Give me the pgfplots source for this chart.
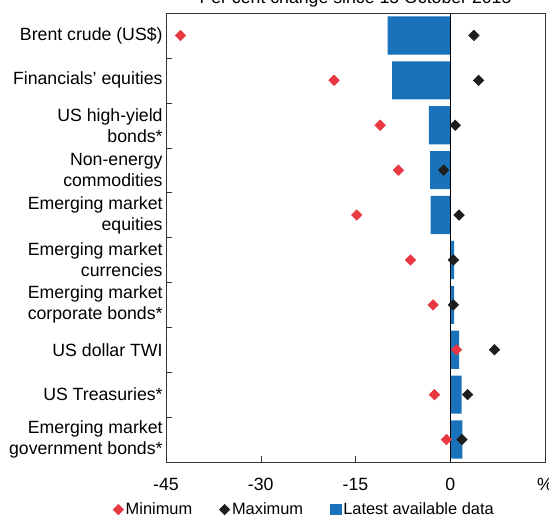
\documentclass[border=0pt]{standalone}
\usepackage{pgfplots}
\pgfplotsset{compat=1.18}
\usepackage{fontspec}
\setmainfont{Liberation Sans}

\definecolor{minred}{RGB}{232,56,66}
\definecolor{maxblack}{RGB}{30,30,30}
\definecolor{barblue}{RGB}{26,115,186}

\newcommand{\chartfont}{\fontsize{8.85}{10.5}\selectfont}

\begin{document}
\begin{tikzpicture}
\begin{axis}[
    name=ax,
    scale only axis,
    width=189.5pt, height=224.5pt,
    xmin=-45, xmax=15,
    ymin=-0.5, ymax=9.5,
    y dir=reverse,
    axis line style={black!80},
    tick align=inside,
    xtick pos=bottom, ytick pos=left,
    major tick length=3pt, minor tick length=3pt,
    xtick={-45,-30,-15,0,15},
    xticklabels={-45,-30,-15,0,\%},
    ytick={0,...,9},
    yticklabels={
        Brent crude (US\$),
        Financials’ equities,
        {US high-yield\\bonds*},
        {Non-energy\\commodities},
        {Emerging market\\equities},
        {Emerging market\\currencies},
        {Emerging market\\corporate bonds*},
        US dollar TWI,
        US Treasuries*,
        {Emerging market\\government bonds*}
    },
    minor ytick={0.5,1.5,...,8.5},
    every major y tick/.style={draw=none},
    tick style={black!80},
    x tick label style={font=\chartfont, yshift=-4.5pt},
    y tick label style={font=\chartfont, align=right, inner xsep=1.5pt},
    legend columns=3,
    legend style={
        draw=none, fill=none,
        font=\fontsize{8.2}{9.8}\selectfont,
        at={(0.365,-0.106)}, anchor=center,
        nodes={inner xsep=1pt},
        /tikz/every even column/.append style={column sep=12.5pt},
    },
]
% latest available data
\addplot[xbar, bar width=0.85, fill=barblue, draw=none, forget plot]
    coordinates {
    (-9.9,0) (-9.2,1) (-3.4,2) (-3.2,3) (-3.1,4)
    (0.6,5) (0.6,6) (1.4,7) (1.8,8) (1.9,9)
};
\draw[black] (axis cs:0,-0.5) -- (axis cs:0,9.5);

% minimum
\addplot[only marks, mark=square*, mark size=1.8pt,
    mark options={rotate=45, fill=minred, draw=minred},
    legend image code/.code={\fill[minred] (0pt,2.5pt)--(2.5pt,0pt)--(0pt,-2.5pt)--(-2.5pt,0pt)--cycle;}]
    coordinates {
    (-42.7,0) (-18.4,1) (-11.1,2) (-8.2,3) (-14.8,4)
    (-6.3,5) (-2.7,6) (1.0,7) (-2.5,8) (-0.6,9)
};
\addlegendentry{Minimum}

% maximum
\addplot[only marks, mark=square*, mark size=1.8pt,
    mark options={rotate=45, fill=maxblack, draw=maxblack},
    legend image code/.code={\fill[maxblack] (0pt,2.5pt)--(2.5pt,0pt)--(0pt,-2.5pt)--(-2.5pt,0pt)--cycle;}]
    coordinates {
    (3.75,0) (4.5,1) (0.8,2) (-1.05,3) (1.4,4)
    (0.5,5) (0.5,6) (7.0,7) (2.75,8) (1.85,9)
};
\addlegendentry{Maximum}

\addlegendimage{legend image code/.code={\fill[barblue] (-2.6pt,-2.6pt) rectangle (2.6pt,2.6pt);}}
\addlegendentry{Latest available data}
\end{axis}

\node[anchor=base, font=\chartfont] at ([yshift=4.5pt]ax.north) {Per cent change since 15 October 2015};

\pgfresetboundingbox
\useasboundingbox ([xshift=-83pt,yshift=-26.5pt]ax.south west) rectangle ([xshift=2pt,yshift=6.5pt]ax.north east);
\end{tikzpicture}
\end{document}
